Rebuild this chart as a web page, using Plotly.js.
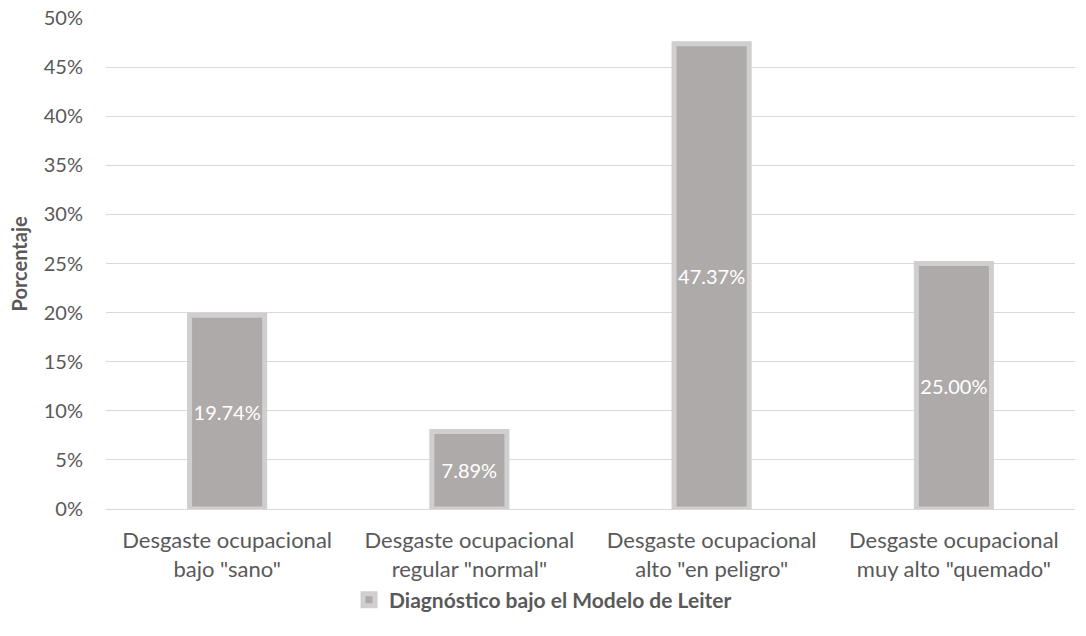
<!DOCTYPE html>
<html><head><meta charset="utf-8">
<script src="https://cdn.plot.ly/plotly-3.0.1.min.js"></script>
<style>body{margin:0;background:#fff}#c{width:1086px;height:636px}</style>
</head><body><div id="c"></div>
<script>
const categories = ['Desgaste ocupacional<br>bajo "sano"', 'Desgaste ocupacional<br>regular "normal"', 'Desgaste ocupacional<br>alto "en peligro"', 'Desgaste ocupacional<br>muy alto "quemado"'];
const values = [19.74, 7.89, 47.37, 25.00];
const seriesName = 'Diagnóstico bajo el Modelo de Leiter';
const tickVals = [0,5,10,15,20,25,30,35,40,45,50];
const tickText = tickVals.map(v => v + '%');

const font = 'Lato, "Open Sans", sans-serif';
const L = 106, R = 11, T = 18, B = 127;
const plotW = 1086 - L - R, plotH = 636 - T - B;
Plotly.newPlot('c', [{
  type: 'bar', x: categories, y: values, name: '<b>' + seriesName + '</b>',
  marker: {color: '#AEAAAA', line: {color: '#D0CECE', width: 5}},
  texttemplate: '%{y:.2f}%', textposition: 'inside', insidetextanchor: 'middle',
  textangle: 0, constraintext: 'none',
  textfont: {color: '#FFFFFF', size: 20, family: font},
  width: 0.31, showlegend: true, hoverinfo: 'none'
}], {
  width: 1086, height: 636,
  margin: {l: L, r: R, t: T, b: B, autoexpand: false},
  paper_bgcolor: '#fff', plot_bgcolor: '#fff',
  font: {family: font, color: '#595959', size: 21},
  xaxis: {tickfont: {size: 22, color: '#595959'}, showline: true, linecolor: '#D9D9D9', linewidth: 1, ticks: '',
    automargin: false, ticklabelstandoff: 12, fixedrange: true},
  yaxis: {range: [0, 50], tickvals: tickVals, ticktext: tickText, gridcolor: '#D9D9D9', gridwidth: 1, zeroline: false,
    tickfont: {size: 20, color: '#595959'}, ticklabelstandoff: 22, automargin: false},
  annotations: [{text: '<b>Porcentaje</b>', xref: 'paper', yref: 'paper', x: (18 - L) / plotW, y: 0.5,
    xanchor: 'center', yanchor: 'middle', textangle: -90, showarrow: false, font: {size: 20, color: '#595959'}}],
  legend: {orientation: 'h', xref: 'container', x: 0.5, xanchor: 'center', y: (509 - 600) / plotH, yanchor: 'middle',
    bgcolor: 'rgba(0,0,0,0)', font: {size: 21, color: '#595959'}},
  showlegend: true
}, {displayModeBar: false, staticPlot: true});
</script></body></html>
